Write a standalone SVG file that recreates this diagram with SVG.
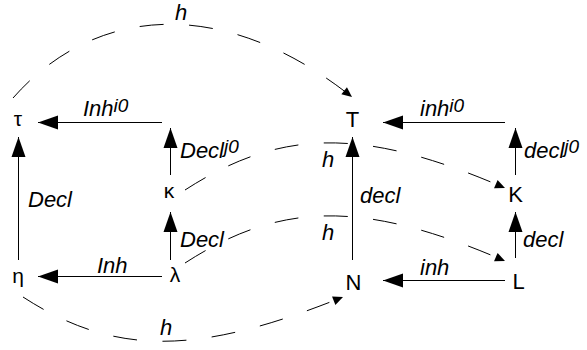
<svg xmlns="http://www.w3.org/2000/svg" width="587" height="350" viewBox="0 0 587 350">
<style>
.lbl{font-family:"Liberation Sans",Arial,sans-serif;font-style:italic;font-size:22px;fill:#000}
.sup{font-size:19px}
.nd{font-family:"Liberation Sans",Arial,sans-serif;font-size:22px;fill:#000;text-anchor:middle}
.gk{font-family:"Liberation Sans",Arial,sans-serif;font-size:21px;fill:#000;text-anchor:middle}
.solid{fill:none;stroke:#000;stroke-width:1;marker-end:url(#big)}
.dash{fill:none;stroke:#000;stroke-width:1;stroke-dasharray:24 25.5;marker-end:url(#small)}
</style>
<defs>
<marker id="big" markerUnits="userSpaceOnUse" markerWidth="20" markerHeight="14" refX="20" refY="7" orient="auto" overflow="visible">
<path d="M0,0 L20,7 L0,14 z" fill="#000"/>
</marker>
<marker id="small" markerUnits="userSpaceOnUse" markerWidth="10" markerHeight="9" refX="10" refY="4.5" orient="auto" overflow="visible">
<path d="M0,0 L10,4.5 L0,9 z" fill="#000"/>
</marker>
</defs>
<g id="connectors">
<path class="solid" d="M162,122.5 L38,122.5"/>
<path class="solid" d="M505,122.5 L383,122.5"/>
<path class="solid" d="M162,276.5 L38,276.5"/>
<path class="solid" d="M505,280.5 L383,280.5"/>
<path class="solid" d="M18.5,260 L18.5,137"/>
<path class="solid" d="M170.5,175 L170.5,128"/>
<path class="solid" d="M170.5,260 L170.5,212"/>
<path class="solid" d="M352.5,260 L352.5,137"/>
<path class="solid" d="M515.5,175 L515.5,128"/>
<path class="solid" d="M515.5,258 L515.5,212"/>
<path class="dash" d="M13,98 C94,6 222,-6 352,97"/>
<path class="dash" d="M23,297 C117,358 201,354 343,297"/>
<path class="dash" d="M185,190 C281,128 364,127 505,188"/>
<path class="dash" d="M185,263 C281,201 364,200 505,261"/>
<text class="lbl" x="83" y="116">Inh<tspan class="sup" dy="-4">i0</tspan></text>
<text class="lbl" x="420" y="116">inh<tspan class="sup" dy="-4">i0</tspan></text>
<text class="lbl" x="97" y="273">Inh</text>
<text class="lbl" x="420" y="275">inh</text>
<text class="lbl" x="28" y="207">Decl</text>
<text class="lbl" x="180" y="158">Decl<tspan class="sup" dy="-5">j0</tspan></text>
<text class="lbl" x="180" y="247">Decl</text>
<text class="lbl" x="360" y="203">decl</text>
<text class="lbl" x="524" y="158">decl<tspan class="sup" dy="-5">j0</tspan></text>
<text class="lbl" x="523" y="247">decl</text>
<text class="lbl" x="175" y="20">h</text>
<text class="lbl" x="160" y="335">h</text>
<text class="lbl" x="322" y="167">h</text>
<text class="lbl" x="322" y="240">h</text>
</g>
<g id="node-tau"><text class="gk" x="18" y="126">τ</text></g>
<g id="node-kappa"><text class="gk" x="169" y="198">κ</text></g>
<g id="node-eta"><text class="gk" x="18" y="283">η</text></g>
<g id="node-lambda"><text class="gk" x="175" y="282">λ</text></g>
<g id="node-T"><text class="nd" x="352.5" y="127">T</text></g>
<g id="node-K"><text class="nd" x="515.5" y="202">K</text></g>
<g id="node-N"><text class="nd" x="353.5" y="290">N</text></g>
<g id="node-L"><text class="nd" x="518.5" y="289">L</text></g>
</svg>
